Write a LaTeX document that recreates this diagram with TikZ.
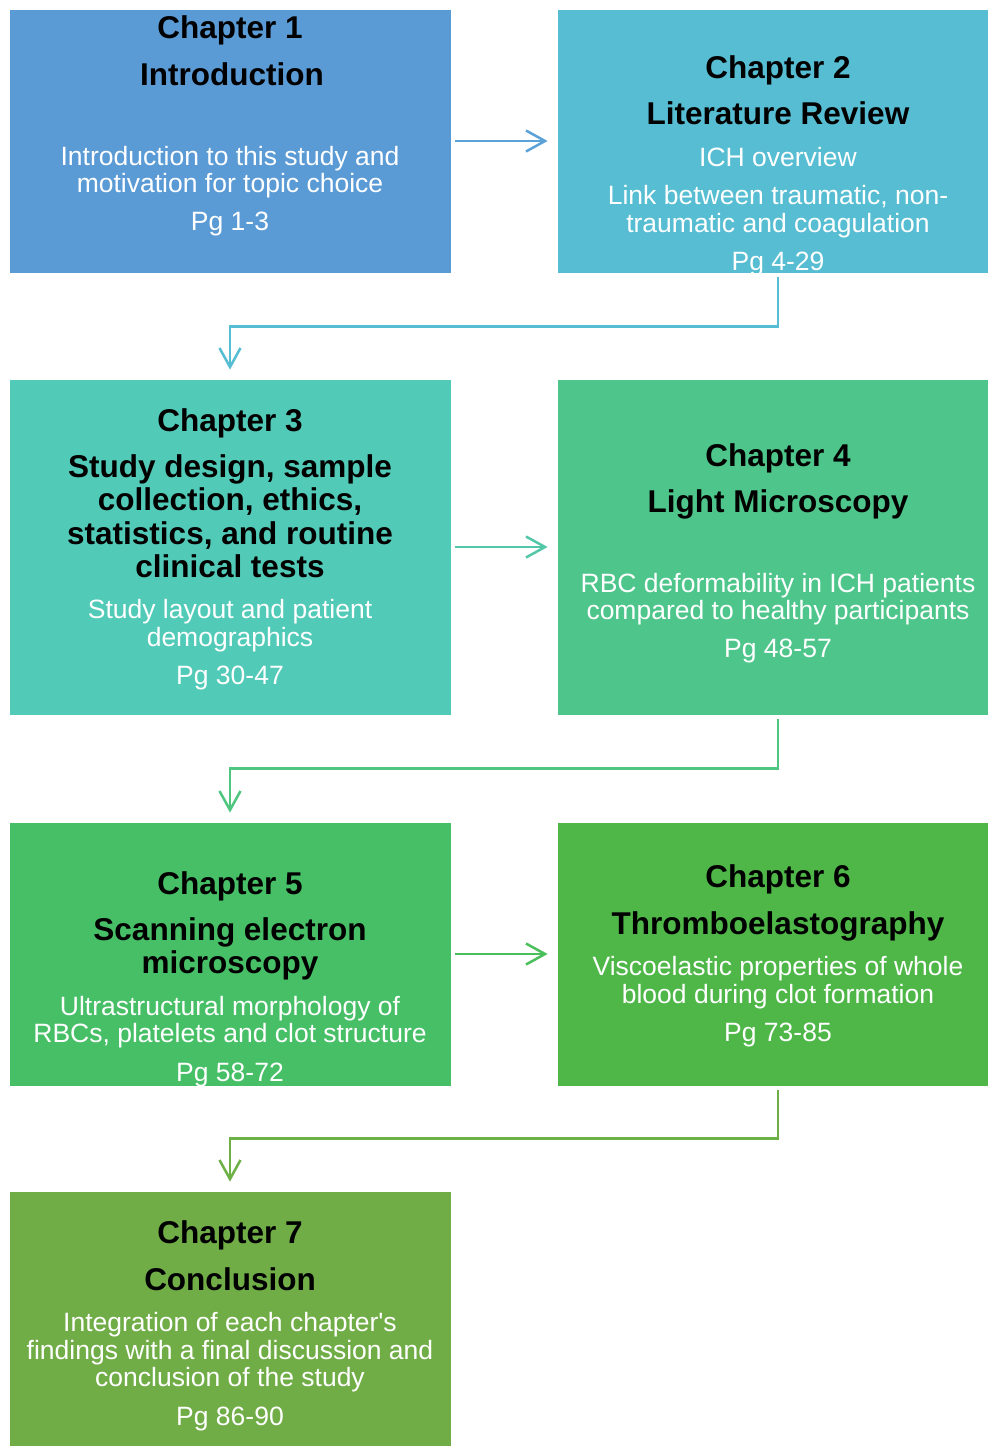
\documentclass[tikz,border=0pt]{standalone}
\usepackage{fontspec}
\setmainfont{Liberation Sans}
\usetikzlibrary{arrows.meta}

\definecolor{boxA}{HTML}{5B9BD5}
\definecolor{boxB}{HTML}{56BDD2}
\definecolor{boxC}{HTML}{52CAB8}
\definecolor{boxD}{HTML}{4EC68B}
\definecolor{boxE}{HTML}{47BF66}
\definecolor{boxF}{HTML}{4EB748}
\definecolor{boxG}{HTML}{70AD47}
\definecolor{lnA}{HTML}{5BA2D8}
\definecolor{lnB}{HTML}{56BDD2}
\definecolor{lnC}{HTML}{52C8A8}
\definecolor{lnD}{HTML}{4EC67F}
\definecolor{lnE}{HTML}{4BBF5C}
\definecolor{lnF}{HTML}{6CB046}

\newcommand\ttlfont{\fontsize{31.5}{33.5}\selectfont\bfseries}
\newcommand\bdyfont{\fontsize{26.5}{27}\selectfont}

\begin{document}
\begin{tikzpicture}[x=1pt,y=-1pt,
  chbox/.style={draw=white, line width=0.8pt, minimum width=442pt, inner sep=0pt},
  ttl/.style={anchor=base, font=\ttlfont, text=black, inner sep=0pt},
  bdy/.style={anchor=base, font=\bdyfont, text=white, inner sep=0pt},
  link/.style={line width=2.5pt, -{Straight Barb[length=19pt,width=21pt]},
    shorten <=4pt, shorten >=9pt}]
\useasboundingbox (0,0) rectangle (988,1446);
\fill[white] (0,0) rectangle (988,1446);
\begin{scope}
\clip (0,0) rectangle (988,1446);

% chapter boxes
\node[chbox, fill=boxA, minimum height=264pt] (b1) at (230,141) {};
\node[chbox, fill=boxB, minimum height=264pt] (b2) at (778,141) {};
\node[chbox, fill=boxC, minimum height=336pt] (b3) at (230,547) {};
\node[chbox, fill=boxD, minimum height=336pt] (b4) at (778,547) {};
\node[chbox, fill=boxE, minimum height=264pt] (b5) at (230,954) {};
\node[chbox, fill=boxF, minimum height=264pt] (b6) at (778,954) {};
\node[chbox, fill=boxG, minimum height=264pt] (b7) at (230,1323) {};

% connectors
\draw[link, lnA] (b1.east) -- (b2.west);
\draw[link, lnB] (b2.south) -- ++(0,53) -| (b3.north);
\draw[link, lnC] (b3.east) -- (b4.west);
\draw[link, lnD] (b4.south) -- ++(0,53) -| (b5.north);
\draw[link, lnE] (b5.east) -- (b6.west);
\draw[link, lnF] (b6.south) -- ++(0,52) -| (b7.north);

% chapter 1
\node[ttl] (t1a) at (230,38) {Chapter 1};
\node[ttl] (t1b) at (232,85) {Introduction};
\node[bdy] (t1c) at (230,165.5) {Introduction to this study and};
\node[bdy] (t1d) at (230,192.5) {motivation for topic choice};
\node[bdy] (t1e) at (230,230.5) {Pg 1-3};

% chapter 2
\node[ttl] (t2a) at (778,78) {Chapter 2};
\node[ttl] (t2b) at (778,124) {Literature Review};
\node[bdy] (t2c) at (778,166.5) {ICH overview};
\node[bdy] (t2d) at (778,204.5) {Link between traumatic, non-};
\node[bdy] (t2e) at (778,232.5) {traumatic and coagulation};
\node[bdy] (t2f) at (778,270.5) {Pg 4-29};

% chapter 3
\node[ttl] (t3a) at (230,431) {Chapter 3};
\node[ttl] (t3b) at (230,477) {Study design, sample};
\node[ttl] (t3c) at (230,510) {collection, ethics,};
\node[ttl] (t3d) at (230,544) {statistics, and routine};
\node[ttl] (t3e) at (230,577) {clinical tests};
\node[bdy] (t3f) at (230,618.5) {Study layout and patient};
\node[bdy] (t3g) at (230,646.5) {demographics};
\node[bdy] (t3h) at (230,684.5) {Pg 30-47};

% chapter 4
\node[ttl] (t4a) at (778,466) {Chapter 4};
\node[ttl] (t4b) at (778,512) {Light Microscopy};
\node[bdy] (t4c) at (778,592.5) {RBC deformability in ICH patients};
\node[bdy] (t4d) at (778,619.5) {compared to healthy participants};
\node[bdy] (t4e) at (778,657.5) {Pg 48-57};

% chapter 5
\node[ttl] (t5a) at (230,894) {Chapter 5};
\node[ttl] (t5b) at (230,940) {Scanning electron};
\node[ttl] (t5c) at (230,973) {microscopy};
\node[bdy] (t5d) at (230,1015.5) {Ultrastructural morphology of};
\node[bdy] (t5e) at (230,1042.5) {RBCs, platelets and clot structure};
\node[bdy] (t5f) at (230,1081.5) {Pg 58-72};

% chapter 6
\node[ttl] (t6a) at (778,887) {Chapter 6};
\node[ttl] (t6b) at (778,934) {Thromboelastography};
\node[bdy] (t6c) at (778,975.5) {Viscoelastic properties of whole};
\node[bdy] (t6d) at (778,1003.5) {blood during clot formation};
\node[bdy] (t6e) at (778,1041.5) {Pg 73-85};

% chapter 7
\node[ttl] (t7a) at (230,1243) {Chapter 7};
\node[ttl] (t7b) at (230,1290) {Conclusion};
\node[bdy] (t7c) at (230,1331.5) {Integration of each chapter\textquotesingle s};
\node[bdy] (t7d) at (230,1359.5) {findings with a final discussion and};
\node[bdy] (t7e) at (230,1386.5) {conclusion of the study};
\node[bdy] (t7f) at (230,1425.5) {Pg 86-90};
\end{scope}
\end{tikzpicture}
\end{document}
